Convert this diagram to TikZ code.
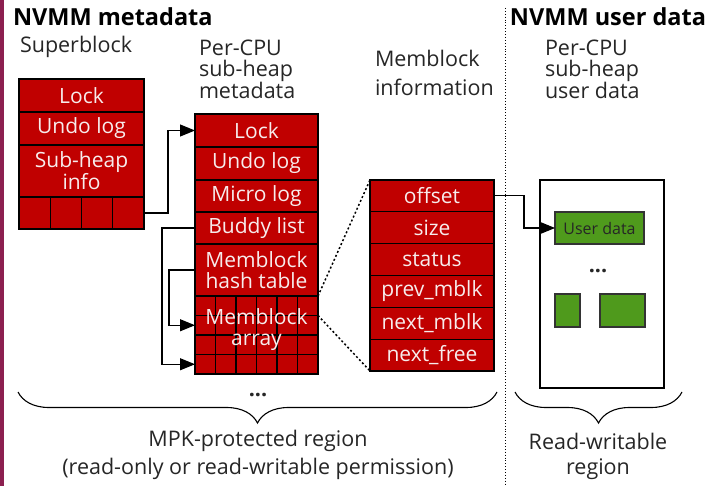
\documentclass[tikz,border=0pt]{standalone}
\usepackage{fontspec}
\setmainfont{Open Sans}
\usetikzlibrary{arrows.meta,decorations.pathreplacing}
\definecolor{myred}{HTML}{C00000}
\definecolor{mygreen}{HTML}{4F9A1C}
\definecolor{mybar}{HTML}{8C2050}
\definecolor{rowtext}{HTML}{F7ECEC}
\begin{document}
\begin{tikzpicture}[x=1pt,y=-1pt,
  every node/.style={inner sep=0pt, outer sep=0pt},
  body/.style={font=\fontsize{21.5}{21.5}\selectfont, text=black!85},
  head/.style={font=\fontsize{23.5}{26}\selectfont\bfseries, text=black},
  row/.style={draw=black, line width=1.2pt, fill=myred, text=rowtext,
    font=\fontsize{21}{21}\selectfont, align=center, anchor=north west},
  cell/.style={draw=black, line width=1.2pt, fill=myred, anchor=north west},
  grn/.style={draw=black!80, line width=1.2pt, fill=mygreen, anchor=north west},
  conn/.style={line width=1.1pt, -{Triangle[length=15pt,width=12pt]}},
  dots/.style={line width=1.5pt, dash pattern=on 2pt off 2.3pt},
  ell/.style={font=\fontsize{21.5}{21.5}\selectfont\bfseries, text=black!85, anchor=base},
  brc/.style={line width=1.1pt, decorate, decoration={brace, mirror, amplitude=31pt}}
]
\useasboundingbox (0,0) rectangle (708,486);
\fill[mybar] (0,0) rectangle (4,486);
% separator
\draw[line width=0.9pt, dotted] (505,8) -- (505,486);
% headings
\node[head, anchor=west] (h1) at (13,17) {NVMM metadata};
\node[head, anchor=east] (h2) at (706,17) {NVMM user data};
\node[body, anchor=west] (t1) at (20,47) {Superblock};
\node[body, anchor=west, align=left] (t2) at (199,69) {Per-CPU\\sub-heap\\metadata};
\node[body, anchor=west, align=left, font=\fontsize{21.5}{29}\selectfont] (t3) at (375,73) {Memblock\\information};
\node[body, anchor=west, align=left] (t4) at (545,69) {Per-CPU\\sub-heap\\user data};
% superblock
\node[row, minimum width=125pt, minimum height=33pt] (sl) at (19,79) {Lock};
\node[row, minimum width=125pt, minimum height=33pt] (su) at (19,112) {Undo log};
\node[row, minimum width=125pt, minimum height=52pt] (si) at (19,145) {Sub-heap\\info};
\foreach \c in {1,...,4}
  \node[cell, minimum width=31.25pt, minimum height=32pt] (c-\c) at ({19+(\c-1)*31.25},197) {};
% per-CPU metadata
\node[row, minimum width=123pt, minimum height=33pt] (ml) at (195,114) {Lock};
\node[row, minimum width=123pt, minimum height=33pt] (mu) at (195,147) {Undo log};
\node[row, minimum width=123pt, minimum height=32pt] (mm) at (195,180) {Micro log};
\node[row, minimum width=123pt, minimum height=32pt] (mb) at (195,212) {Buddy list};
\node[row, minimum width=123pt, minimum height=52pt] (mh) at (195,244) {Memblock\\hash table};
\foreach \r in {1,...,4}
  \foreach \c in {1,...,6}
    \node[cell, minimum width=20.5pt, minimum height=19.5pt] (g-\r-\c) at ({195+(\c-1)*20.5},{296+(\r-1)*19.5}) {};
\node[align=center, text=rowtext, font=\fontsize{21}{21}\selectfont] (ma) at (256.5,330) {Memblock\\array};
\node[ell] (d1) at (258,396) {...};
% memblock information
\foreach \t [count=\i] in {offset,size,status,prev\_mblk,next\_mblk,next\_free}
  \node[row, minimum width=124pt, minimum height=31.83pt] (i\i) at (370,{180+(\i-1)*31.83}) {\t};
% user data
\node[draw=black, line width=1.2pt, fill=white, minimum width=124pt, minimum height=208pt, anchor=north west] (ub) at (540,180) {};
\node[grn, minimum width=89pt, minimum height=32pt, text=black!85, font=\fontsize{16}{18}\selectfont] (ud) at (555,212) {User data};
\node[ell] (d2) at (598,272) {...};
\node[grn, minimum width=25pt, minimum height=33pt] (u2) at (555,294) {};
\node[grn, minimum width=45pt, minimum height=33pt] (u3) at (600,294) {};
% connectors
\draw[conn] (c-4.east) -- ++(24,0) |- (ml.west);
\draw[conn] (mb.west) -- ++(-33,0) |- (g-4-1.west);
\draw[conn] (mh.west) -- ++(-26,0) |- (g-2-1.west);
\draw[conn] (i1.east) -- ++(30,0) |- (ud.west);
\draw[dots] (mh.south east) -- (i1.north west);
\draw[dots] (g-1-6.south east) -- (i6.south west);
% braces
\coordinate (b1l) at (18,392);
\coordinate (b1r) at (497,392);
\coordinate (b2l) at (515,392);
\coordinate (b2r) at (682,392);
\draw[brc] (b1l) -- (b1r);
\draw[brc] (b2l) -- (b2r);
\node[body] (l1) at (258,441) {MPK-protected region};
\node[body] (l2) at (258,469) {(read-only or read-writable permission)};
\node[body] (l3) at (598,441) {Read-writable};
\node[body] (l4) at (598,469) {region};
\end{tikzpicture}
\end{document}
